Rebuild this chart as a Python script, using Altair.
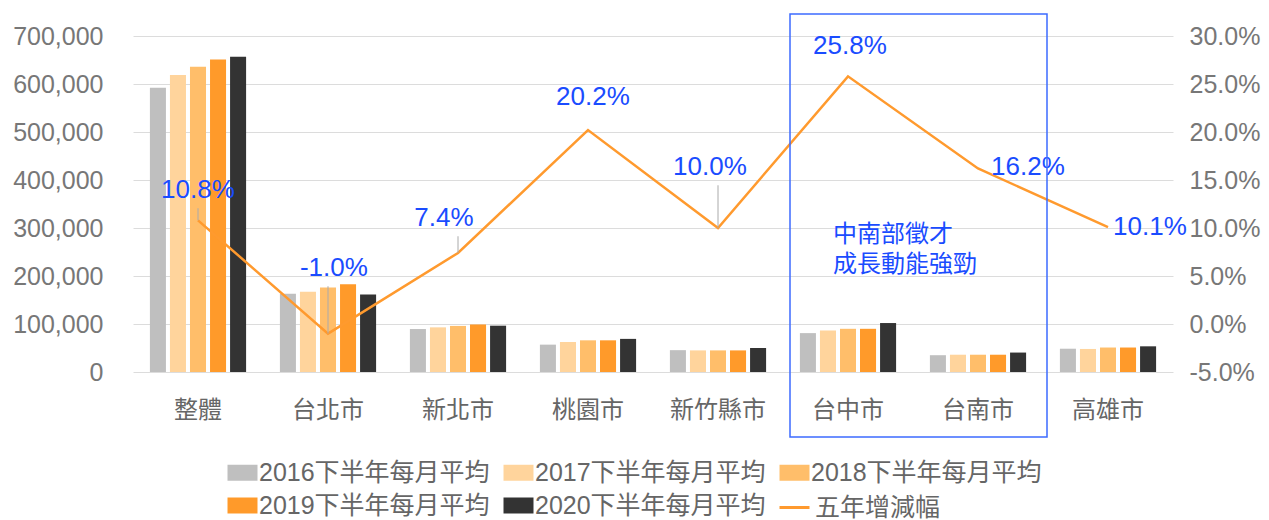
import altair as alt
import pandas as pd

categories = ["整體", "台北市", "新北市", "桃園市", "新竹縣市", "台中市", "台南市", "高雄市"]
series = ["2016下半年每月平均", "2017下半年每月平均", "2018下半年每月平均",
          "2019下半年每月平均", "2020下半年每月平均"]
v2016 = [592000, 163000, 89500, 57000, 45500, 81000, 35000, 48500]
v2017 = [619000, 167000, 93000, 62500, 45000, 86500, 36000, 48000]
v2018 = [636000, 176000, 96000, 66000, 45000, 90000, 36000, 51000]
v2019 = [651000, 183000, 99000, 66000, 45000, 90000, 36000, 51000]
v2020 = [657000, 161500, 96500, 69000, 50000, 102000, 40500, 53500]
growth = [10.8, -1.0, 7.4, 20.2, 10.0, 25.8, 16.2, 10.1]
line_name = "五年增減幅"
note_text = "中南部徵才\n成長動能強勁"

# label placement (annotation styling)
label_y = [13.96, 5.83, 11.04, 23.65, 16.35, 28.96, 16.35, 10.1]
label_dx = [0, 6, -14, 5, -8, 2, 50, 42]
leader = [True, True, True, False, True, False, False, False]

bar_colors = ["#bfbfbf", "#ffd49c", "#ffbe6a", "#ff9a2a", "#333333"]
line_color = "#ff9a2e"
blue = "#1a4cff"
FONT = "Liberation Sans, Noto Sans CJK TC"

rows = []
for s, vals in zip(series, [v2016, v2017, v2018, v2019, v2020]):
    for c, v in zip(categories, vals):
        rows.append({"cat": c, "series": s, "value": v})
bars_df = pd.DataFrame(rows)

line_df = pd.DataFrame({
    "cat": categories, "pct": growth, "label_y": label_y,
    "dx": label_dx, "leader": leader, "name": line_name,
})

xenc = alt.X("cat:N", sort=categories, title=None,
             scale=alt.Scale(paddingInner=0.26, paddingOuter=0.13),
             axis=alt.Axis(labelAngle=0, labelFontSize=24, labelColor="#666666",
                           labelFont=FONT, ticks=False, domain=False, labelPadding=26))

bars = alt.Chart(bars_df).mark_bar().encode(
    x=xenc,
    xOffset=alt.XOffset("series:N", sort=series, scale=alt.Scale(paddingInner=0.2)),
    y=alt.Y("value:Q", title=None,
            scale=alt.Scale(domain=[0, 700000], nice=False),
            axis=alt.Axis(format=",d", values=list(range(0, 700001, 100000)),
                          labelOverlap=False,
                          labelFontSize=25, labelColor="#777777", labelFont=FONT,
                          ticks=False, domain=False, labelPadding=30,
                          gridColor="#dcdcdc", gridWidth=1)),
    color=alt.Color("series:N", sort=series,
                    scale=alt.Scale(domain=series, range=bar_colors),
                    legend=alt.Legend(title=None, orient="none", legendX=97, legendY=424,
                                      direction="horizontal", columns=3,
                                      labelFontSize=25, labelFont=FONT, labelColor="#666666",
                                      symbolType="M-1.5,-0.8H1.5V0.8H-1.5Z", symbolSize=400,
                                      symbolStrokeWidth=0, labelOffset=4, padding=0,
                                      columnPadding=13, rowPadding=7, labelLimit=400)),
)

pct_axis = alt.Axis(values=[-5, 0, 5, 10, 15, 20, 25, 30], orient="right",
                    labelExpr="(datum.value < 0 ? '-' : '') + format(abs(datum.value), '.1f') + '%'",
                    labelOverlap=False,
                    labelFontSize=25, labelColor="#777777", labelFont=FONT,
                    ticks=False, domain=False, grid=False, labelPadding=16)
yscale = alt.Scale(domain=[-5, 30], nice=False)

line = alt.Chart(line_df).mark_line(strokeWidth=2.5).encode(
    x=alt.X("cat:N", sort=categories),
    y=alt.Y("pct:Q", title=None, scale=yscale, axis=pct_axis),
    stroke=alt.Stroke("name:N", scale=alt.Scale(domain=[line_name], range=[line_color]),
                      legend=alt.Legend(title=None, orient="none", legendX=645, legendY=455,
                                        labelFontSize=25, labelFont=FONT, labelColor="#666666",
                                        symbolType="stroke", symbolSize=900,
                                        symbolStrokeWidth=3, labelOffset=4, padding=0)),
)

leaders = alt.Chart(line_df).transform_filter("datum.leader").transform_calculate(
    top="datum.label_y - 1.9"
).mark_rule(color="#aaaaaa", strokeWidth=1).encode(
    x=alt.X("cat:N", sort=categories),
    y=alt.Y("pct:Q", scale=yscale),
    y2="top:Q",
)

labels = alt.Chart(line_df).transform_calculate(
    txt="(datum.pct < 0 ? '-' : '') + format(abs(datum.pct), '.1f') + '%'"
).mark_text(fontSize=26, font=FONT, color=blue, align="center", baseline="middle").encode(
    x=alt.X("cat:N", sort=categories),
    xOffset=alt.XOffset("dx:Q", scale=alt.Scale(domain=[-100, 100], range=[-52, 148])),
    y=alt.Y("label_y:Q", scale=yscale),
    text="txt:N",
)

right = alt.layer(line, leaders, labels)

dummy = pd.DataFrame({"a": [0]})
box = alt.Chart(dummy).mark_rect(fill=None, stroke="#3d6bff", strokeWidth=1.5).encode(
    x=alt.value(657), x2=alt.value(914), y=alt.value(-22), y2=alt.value(401))
note = alt.Chart(pd.DataFrame({"t": [note_text]})).mark_text(
    fontSize=24, font=FONT, color=blue, align="left", baseline="middle",
    lineBreak="\n", lineHeight=30).encode(
    x=alt.value(700), y=alt.value(199), text="t:N")

chart = alt.layer(bars, right, box, note).resolve_scale(
    y="independent", xOffset="independent", color="independent"
).properties(
    width=1040, height=336,
    padding={"left": 133, "top": 36, "right": 96, "bottom": 148},
    autosize=alt.AutoSizeParams(type="none"),
).configure_view(stroke=None)

chart.save("out.html", embed_options={"renderer": "svg", "actions": False})
